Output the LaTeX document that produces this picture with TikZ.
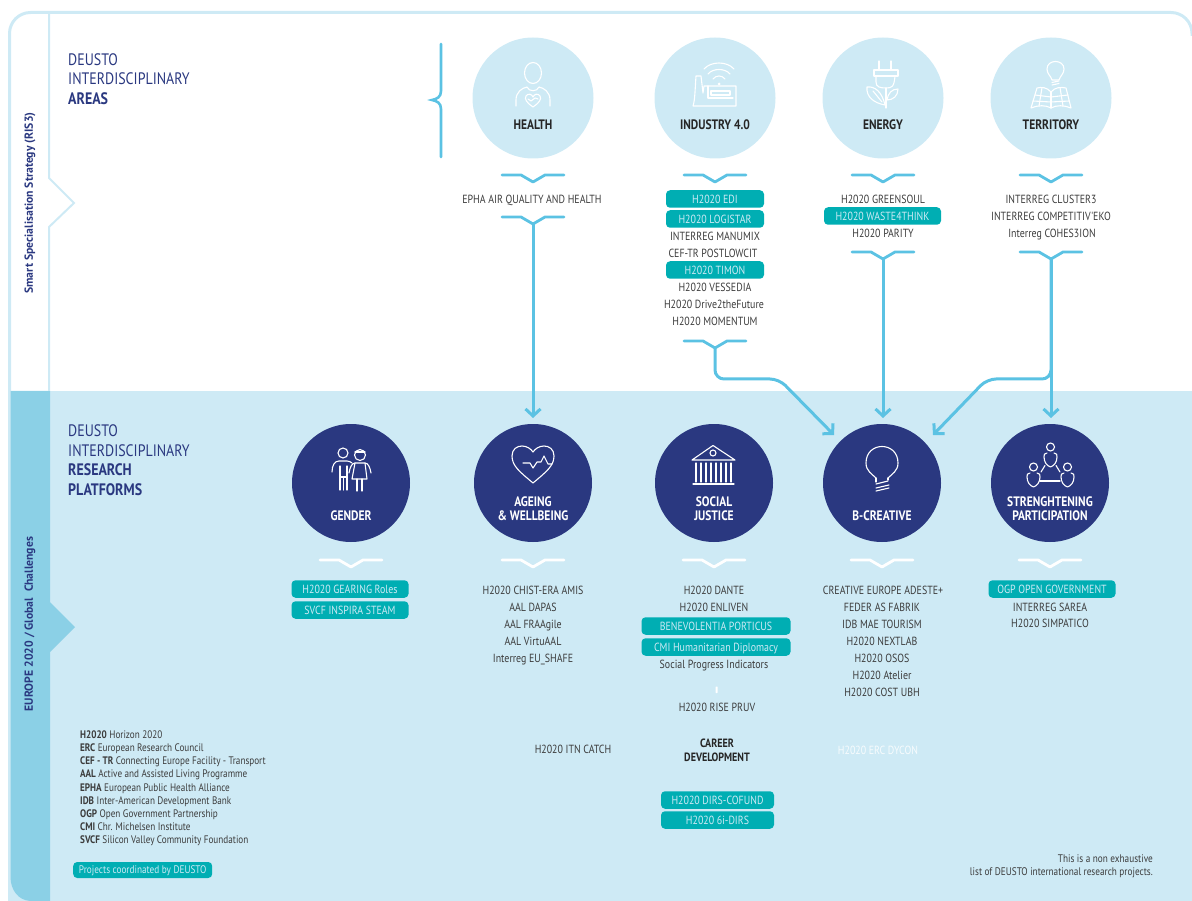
\documentclass[tikz,border=0pt]{standalone}
\usepackage{fontspec}
\setmainfont{PT Sans}
\newfontfamily\ptn[FakeStretch=0.84]{PT Sans}
\usetikzlibrary{arrows.meta}
\definecolor{pale}{HTML}{CEEAF5}
\definecolor{band}{HTML}{8BD0E6}
\definecolor{conn}{HTML}{5BC2E3}
\definecolor{navy}{HTML}{2A3880}
\definecolor{teal}{HTML}{00AEB3}
\definecolor{ink}{HTML}{3C3C3C}
\tikzset{
 x=1pt,y=-1pt,
 area/.style={circle,fill=pale,minimum size=121pt,inner sep=0pt},
 plat/.style={circle,fill=navy,minimum size=118pt,inner sep=0pt},
 alab/.style={font=\ptn\fontsize{13.7}{14}\selectfont\bfseries,text=black!85,align=center,anchor=center,inner sep=0pt},
 plab/.style={font=\ptn\fontsize{13.7}{14}\selectfont\bfseries,text=white,align=center,anchor=center,inner sep=0pt},
 item/.style={font=\ptn\fontsize{11.8}{12}\selectfont,text=ink,inner sep=0pt,anchor=center,text height=8.3pt,text depth=0pt},
 pill/.style={font=\ptn\fontsize{11.8}{12}\selectfont,text=pale,fill=teal,rounded corners=4pt,inner sep=0pt,minimum height=17.5pt,anchor=center,text height=8.3pt,text depth=0pt},
 head/.style={font=\ptn\fontsize{16.6}{17}\selectfont,text=navy,inner sep=0pt,anchor=west},
 headb/.style={head,font=\ptn\fontsize{16.6}{17}\selectfont\bfseries},
 leg/.style={font=\ptn\fontsize{10.9}{11}\selectfont,text=ink,inner sep=0pt,anchor=west,text height=7.6pt,text depth=0pt},
 side/.style={font=\fontsize{11.7}{12}\selectfont\bfseries,text=navy,inner sep=0pt,rotate=90,anchor=center},
 chev/.style={draw=conn,line width=2.8pt,line cap=round,line join=round},
 wchev/.style={draw=white,line width=2.8pt,line cap=round,line join=round},
 conn line/.style={draw=conn,line width=3pt,rounded corners=9pt},
 tip/.style={-{Straight Barb[length=7pt,width=15pt,line width=3pt]}},
 icon/.style={draw=white,line width=1.1pt,line cap=round,line join=round,fill=none},
}
\begin{document}
\begin{tikzpicture}
\useasboundingbox (0,0) rectangle (1192,901);
% frame
\fill[pale] (8,901) -- (8,391) -- (1192,391) -- (1192,901) -- cycle;
\draw[pale,line width=3pt,rounded corners=21pt] (9.5,391) -- (9.5,12.5) -- (1192,12.5) -- (1192,36);
\fill[band] (10.5,391) -- (50,391) -- (50,602) -- (75,627) -- (50,652) -- (50,901) -- (30,901) .. controls (18,900) and (11,890) .. (10.5,878) -- cycle;
\draw[pale,line width=2pt,line join=miter] (49,12) -- (49,178) -- (74,203) -- (49,227) -- (49,391);
% side text
\node[side] (sideA) at (30,203) {Smart Specialisation Strategy (RIS3)};
\node[side] (sideB) at (30,624) {EUROPE 2020 / Global\ \ Challenges};
% headings
\node[head] (h1) at (68,60) {DEUSTO};
\node[head] (h2) at (68,79) {INTERDISCIPLINARY};
\node[headb] (h3) at (68,99) {AREAS};
\node[head] (h4) at (68,431) {DEUSTO};
\node[head] (h5) at (68,451) {INTERDISCIPLINARY};
\node[headb] (h6) at (68,470) {RESEARCH};
\node[headb] (h7) at (68,490) {PLATFORMS};
% bracket
\draw[conn,line width=2.6pt,line cap=round] (441,44) -- (441,91) .. controls (441,97) and (437,99) .. (432,100) .. controls (437,101) and (441,103) .. (441,109) -- (441,157);
% area circles
\node[area] (health) at (533,98) {};
\node[area] (industry) at (715,98) {};
\node[area] (energy) at (883,98) {};
\node[area] (territory) at (1051,98) {};
\node[alab] (lhealth) at (533,124.5) {HEALTH};
\node[alab] (lindustry) at (715,124.5) {INDUSTRY 4.0};
\node[alab] (lenergy) at (883,124.5) {ENERGY};
\node[alab] (lterritory) at (1051,124.5) {TERRITORY};
% platform circles
\node[plat] (gender) at (351,483) {};
\node[plat] (ageing) at (533,483) {};
\node[plat] (social) at (714,483) {};
\node[plat] (bcreative) at (882,483) {};
\node[plat] (strength) at (1050,483) {};
\node[plab] (lgender) at (351,515.5) {GENDER};
\node[plab] (lageing) at (533,508.5) {AGEING\\\& WELLBEING};
\node[plab] (lsocial) at (714,508.5) {SOCIAL\\JUSTICE};
\node[plab] (lbc) at (882,515.5) {B-CREATIVE};
\node[plab] (lstr) at (1050,508.5) {STRENGHTENING\\PARTICIPATION};
% icons: health
\begin{scope}[icon]
\draw (533,73) ellipse[x radius=8.5,y radius=10.5];
\draw (516,106) -- (516,100) .. controls (516,92) and (522,88) .. (527,87) .. controls (529,92) and (537,92) .. (539,87) .. controls (544,88) and (550,92) .. (550,100) -- (550,106);
\draw (533,107) .. controls (527,103) and (524,99) .. (526,96) .. controls (528,93) and (532,94) .. (533,97) .. controls (534,94) and (538,93) .. (540,96) .. controls (542,99) and (539,103) .. (533,107) -- cycle;
\draw (528,99) -- (531,101) -- (535,98) -- (538,99);
% industry
\draw (693,106) .. controls (695,100) and (695,90) .. (696,76) -- (701,76) -- (703,93) -- (704,86) -- (736,86) -- (736,106) -- cycle;
\draw (711,91) -- (730,91) -- (730,95) -- (711,95) -- cycle;
\draw (708,86) -- (708,98) -- (733,98);
\fill[white] (719,84) circle[radius=1.5];
\draw (713,79) .. controls (716,75) and (722,75) .. (725,79);
\draw (708,74) .. controls (713,68) and (725,68) .. (730,74);
\draw (704,69) .. controls (711,61) and (727,61) .. (734,69);
% energy
\draw (879,61) -- (879,70);
\draw (891,61) -- (891,70);
\draw (874,70) -- (898,70) -- (898,76) -- (874,76) -- cycle;
\draw (876,76) -- (876,82) .. controls (876,87) and (880,88) .. (886,88) .. controls (892,88) and (894,87) .. (895,76);
\draw (886,88) -- (886,108);
\draw (885,105) .. controls (874,103) and (866,97) .. (867,87) .. controls (875,86) and (882,92) .. (885,105) -- cycle;
\draw (873,91) -- (882,102);
\draw (887,100) .. controls (888,93) and (892,89) .. (898,89) .. controls (898,96) and (893,100) .. (887,100) -- cycle;
% territory
\draw (1052,80) .. controls (1051,76) and (1047,74) .. (1047,69) .. controls (1047,59) and (1064,59) .. (1064,69) .. controls (1064,74) and (1060,76) .. (1059,80) -- cycle;
\draw (1052,82.5) -- (1059,81) (1052,85) -- (1059,83.5);
\draw (1031,108) -- (1037,88) .. controls (1041,87) and (1047,87) .. (1051,92) .. controls (1055,87) and (1061,87) .. (1066,88) -- (1071,108) .. controls (1064,105) and (1056,105) .. (1051,108) .. controls (1046,105) and (1038,105) .. (1031,108) -- cycle;
\draw (1051,92) -- (1051,108);
\draw (1042,87.5) -- (1039,106) (1060,87.5) -- (1063,106);
\draw (1035,95) -- (1051,97) -- (1068,95) (1033,101) -- (1051,102) -- (1069,101);
% gender
\draw (343,453) circle[radius=5];
\draw (360,455) circle[radius=5.5];
\draw (355,452) -- (365,452);
\draw (332,472) .. controls (332,465) and (335,461) .. (339,461) -- (347,461) .. controls (349,461) and (351,462) .. (352,463);
\draw (340,466) -- (340,490) (347,466) -- (347,490) (340,477) -- (347,477) (343.5,477) -- (343.5,490);
\draw (349,473) .. controls (350,467) and (352,463) .. (355,463) -- (365,463) .. controls (368,463) and (370,467) .. (371,473);
\draw (355,463) -- (352,479) -- (367,479) -- (365,463);
\draw (357,479) -- (357,491) (362,479) -- (362,491);
% heart
\draw (533,483) .. controls (520,472) and (512,466) .. (512,456) .. controls (512,449) and (517,446) .. (522,446) .. controls (527,446) and (531,449) .. (533,452) .. controls (535,449) and (539,446) .. (544,446) .. controls (549,446) and (554,449) .. (554,456) .. controls (554,466) and (546,472) .. (533,483) -- cycle;
\draw (523,463) -- (530,463) -- (533,468) -- (537,462) -- (541,462) -- (544,456) -- (548,464) -- (552,464);
% temple
\draw (713,445.5) -- (692,460) -- (735,460) -- cycle;
\draw (713,453) circle[radius=3];
\foreach \xx in {696,701,706,711,716,721,726,731}{\draw (\xx,463) -- (\xx,482);}
\draw (693,484) -- (734,484);
% bulb
\draw (876,478) .. controls (872,474) and (866,471) .. (866,463) .. controls (866,441) and (898,441) .. (898,463) .. controls (898,471) and (892,474) .. (888,478);
\draw (876,478) -- (876,482) (888,478) -- (888,480);
\draw (876,484) -- (888,481) (876,488) -- (889,485) (876,491) -- (889,488);
% people
\draw (1050.5,447) circle[radius=4];
\draw (1047,453) .. controls (1044,453) and (1044,455) .. (1044,457) .. controls (1044,462) and (1047,466) .. (1050.5,467) .. controls (1054,466) and (1057,462) .. (1057,457) .. controls (1057,455) and (1057,453) .. (1054,453);
\draw (1033.5,467) circle[radius=4];
\draw (1030,473) .. controls (1027,473) and (1027,475) .. (1027,477) .. controls (1027,482) and (1030,486) .. (1033.5,487) .. controls (1037,486) and (1040,482) .. (1040,477) .. controls (1040,475) and (1040,473) .. (1037,473);
\draw (1067.5,467) circle[radius=4];
\draw (1064,473) .. controls (1061,473) and (1061,475) .. (1061,477) .. controls (1061,482) and (1064,486) .. (1067.5,487) .. controls (1071,486) and (1074,482) .. (1074,477) .. controls (1074,475) and (1074,473) .. (1071,473);
\draw (1040,481) -- (1060,481);
\draw (1041,472) -- (1045,465.5) (1060,472) -- (1056,465.5);
\end{scope}
% chevrons and connector anchors
\foreach \xc/\yc in {533/175,715/175,883/175,1051/175}{
  \draw[chev] (\xc-31,\yc) -- (\xc-12,\yc) -- (\xc,\yc+7) -- (\xc+12,\yc) -- (\xc+31,\yc);
}
\foreach \n/\xc/\yc in {E/533/217,F/715/341,G/883/252,H/1051/252}{
  \coordinate (chev\n) at (\xc,\yc+7);
  \draw[chev] (\xc-31,\yc) -- (\xc-12,\yc) -- (\xc,\yc+7) -- (\xc+12,\yc) -- (\xc+31,\yc);
}
\foreach \xc in {351,533,714,882,1050}{
  \draw[wchev] (\xc-31,560) -- (\xc-12,560) -- (\xc,567) -- (\xc+12,560) -- (\xc+31,560);
}
% connectors
\coordinate (endA) at (533,418);
\coordinate (endE) at (883,418);
\coordinate (endH) at (1051,418);
\coordinate (endL) at (834,435);
\coordinate (endR) at (933,435);
\draw[conn line,tip] (chevE) -- (endA);
\draw[conn line,tip] (chevG) -- (endE);
\draw[conn line,tip] (chevH) -- (endH);
\draw[conn line,tip] (chevF) -- (715,379) -- (779,379) -- (endL);
\draw[conn line,tip] (chevH) -- (1051,379) -- (987,379) -- (endR);
% lists
\node[item] (i01) at (532,199) {EPHA AIR QUALITY AND HEALTH};
\node[pill,minimum width=98pt] (i02) at (715,199) {H2020 EDI};
\node[pill,minimum width=98pt] (i03) at (715,219) {H2020 LOGISTAR};
\node[item] (i04) at (715,236) {INTERREG MANUMIX};
\node[item] (i05) at (713,253) {CEF-TR POSTLOWCIT};
\node[pill,minimum width=98pt] (i06) at (715,270) {H2020 TIMON};
\node[item] (i07) at (715,287) {H2020 VESSEDIA};
\node[item] (i08) at (714,304) {H2020 Drive2theFuture};
\node[item] (i09) at (715,321) {H2020 MOMENTUM};
\node[item] (i10) at (883,199) {H2020 GREENSOUL};
\node[pill,minimum width=117pt] (i11) at (882.5,216) {H2020 WASTE4THINK};
\node[item] (i12) at (883,233) {H2020 PARITY};
\node[item] (i13) at (1051,199) {INTERREG CLUSTER3};
\node[item] (i14) at (1051,216) {INTERREG COMPETITIV'EKO};
\node[item] (i15) at (1052,233) {Interreg COHES3ION};
\node[pill,minimum width=117pt] (j01) at (350,589) {H2020 GEARING Roles};
\node[pill,minimum width=117pt] (j02) at (350,610) {SVCF INSPIRA STEAM};
\node[item] (j03) at (533,590) {H2020 CHIST-ERA AMIS};
\node[item] (j04) at (533,607) {AAL DAPAS};
\node[item] (j05) at (533,624) {AAL FRAAgile};
\node[item] (j06) at (533,641) {AAL VirtuAAL};
\node[item] (j07) at (533,658) {Interreg EU\_SHAFE};
\node[item] (j08) at (714,590) {H2020 DANTE};
\node[item] (j09) at (714,607) {H2020 ENLIVEN};
\node[pill,minimum width=149pt] (j10) at (716,626) {BENEVOLENTIA PORTICUS};
\node[pill,minimum width=149pt] (j11) at (716,647) {CMI Humanitarian Diplomacy};
\node[item] (j12) at (714,664) {Social Progress Indicators};
\node[item] (j13) at (717,707) {H2020 RISE PRUV};
\node[item] (j14) at (573,749) {H2020 ITN CATCH};
\node[inner sep=0pt,font=\ptn\fontsize{12}{14}\selectfont\bfseries,text=black!85,align=center] (j15) at (717,750) {CAREER\\DEVELOPMENT};
\node[pill,minimum width=113pt] (j16) at (717.5,800) {H2020 DIRS-COFUND};
\node[pill,minimum width=113pt] (j17) at (717.5,820) {H2020 6i-DIRS};
\node[item] (j18) at (883,590) {CREATIVE EUROPE ADESTE+};
\node[item] (j19) at (882,607) {FEDER AS FABRIK};
\node[item] (j20) at (882,624) {IDB MAE TOURISM};
\node[item] (j21) at (882,641) {H2020 NEXTLAB};
\node[item] (j22) at (882,658) {H2020 OSOS};
\node[item] (j23) at (882,675) {H2020 Atelier};
\node[item] (j24) at (882,692) {H2020 COST UBH};
\node[item,text=white,opacity=0.85] (j25) at (878,750) {H2020 ERC DYCON};
\node[pill,minimum width=127pt] (j26) at (1052,589) {OGP OPEN GOVERNMENT};
\node[item] (j27) at (1050,607) {INTERREG SAREA};
\node[item] (j28) at (1050,623) {H2020 SIMPATICO};
\fill[white,rounded corners=0.5pt] (715.5,686.5) rectangle (717.5,693);
% legend
\node[leg] (k1) at (80,735) {\textbf{H2020} Horizon 2020};
\node[leg] (k2) at (80,748) {\textbf{ERC} European Research Council};
\node[leg] (k3) at (80,761) {\textbf{CEF - TR} Connecting Europe Facility - Transport};
\node[leg] (k4) at (80,774) {\textbf{AAL} Active and Assisted Living Programme};
\node[leg] (k5) at (80,788) {\textbf{EPHA} European Public Health Alliance};
\node[leg] (k6) at (80,801) {\textbf{IDB} Inter-American Development Bank};
\node[leg] (k7) at (80,814) {\textbf{OGP} Open Government Partnership};
\node[leg] (k8) at (80,827) {\textbf{CMI} Chr. Michelsen Institute};
\node[leg] (k9) at (80,840) {\textbf{SVCF} Silicon Valley Community Foundation};
\node[pill,minimum width=139pt,minimum height=16pt,font=\ptn\fontsize{11}{11}\selectfont,anchor=west,text height=7.6pt] (k10) at (73,870) {Projects coordinated by DEUSTO};
\node[leg,anchor=east,font=\ptn\fontsize{11}{11}\selectfont] (n1) at (1153,859) {This is a non exhaustive};
\node[leg,anchor=east,font=\ptn\fontsize{11}{11}\selectfont] (n2) at (1153,872) {list of DEUSTO international research projects.};
\end{tikzpicture}
\end{document}
